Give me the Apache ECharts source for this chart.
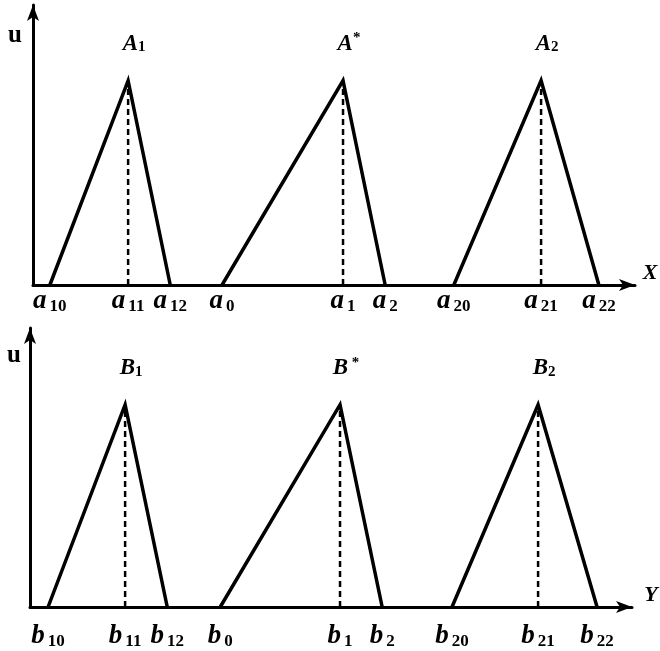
<!DOCTYPE html>
<html>
<head>
<meta charset="utf-8">
<script src="https://cdn.jsdelivr.net/npm/echarts@6/dist/echarts.min.js"></script>
<style>
  html, body { margin: 0; padding: 0; background: #fff; }
  #chart { width: 660px; height: 651px; }
</style>
</head>
<body>
<div id="chart"></div>
<script>
// positions along the axis (0 = origin, 100 = arrow tip), three per triangle: left foot, peak, right foot
const aPoints = [2.8, 15.8, 22.8, 31.4, 51.5, 58.5, 69.9, 84.4, 94.0];
const bPoints = [3.0, 15.8, 22.8, 31.6, 51.5, 58.5, 70.1, 84.4, 94.2];
// subscripts of the tick labels
const aSubs = ['10', '11', '12', '0', '1', '2', '20', '21', '22'];
const bSubs = ['10', '11', '12', '0', '1', '2', '20', '21', '22'];
// names over the peaks
const aNames = ['{n|A}{s|1}', '{n|A}{t|*}', '{n|A}{s|2}'];
const bNames = ['{n|B}{s|1}', '{n|B}{t| *}', '{n|B}{s|2}'];
// peak height (axis top = 1)
const peakA = 0.73;
const peakB = 0.725;

const serif = '"Liberation Serif", "DejaVu Serif", serif';

const tickRich = {
  i: { fontFamily: serif, fontStyle: 'italic', fontWeight: 'bold', fontSize: 27, color: '#000', verticalAlign: 'bottom', lineHeight: 26 },
  s: { fontFamily: serif, fontWeight: 'bold', fontSize: 17, color: '#000', verticalAlign: 'bottom', lineHeight: 21, padding: [0, 0, 0, 3] }
};
const nameRich = {
  n: { fontFamily: serif, fontStyle: 'italic', fontWeight: 'bold', fontSize: 23, color: '#000', verticalAlign: 'bottom', lineHeight: 24 },
  s: { fontFamily: serif, fontStyle: 'normal', fontWeight: 'bold', fontSize: 15, color: '#000', verticalAlign: 'bottom', lineHeight: 21 },
  t: { fontFamily: serif, fontStyle: 'normal', fontWeight: 'bold', fontSize: 15, color: '#000', verticalAlign: 'top', lineHeight: 24 }
};

function makeX(gridIndex, points, letter, subs, margin) {
  return {
    type: 'value', gridIndex: gridIndex, min: 0, max: 100,
    axisLine: { show: true, symbol: ['none', 'arrow'], symbolSize: [9, 16], lineStyle: { color: '#000', width: 3 } },
    axisTick: { show: false },
    splitLine: { show: false },
    axisLabel: {
      customValues: points,
      margin: margin,
      formatter: function (v) {
        let k = 0;
        points.forEach(function (p, j) { if (Math.abs(p - v) < Math.abs(points[k] - v)) k = j; });
        return '{i|' + letter + '}{s|' + subs[k] + '}';
      },
      rich: tickRich
    }
  };
}

function makeY(gridIndex) {
  return {
    type: 'value', gridIndex: gridIndex, min: 0, max: 1,
    axisLine: { show: true, symbol: ['none', 'arrow'], symbolSize: [9, 16], lineStyle: { color: '#000', width: 3 } },
    axisTick: { show: false },
    axisLabel: { show: false },
    splitLine: { show: false }
  };
}

function makeSeries(axisIndex, points, peak, names) {
  const out = [];
  const peaks = [];
  for (let i = 0; i < 3; i++) {
    const p0 = points[3 * i], p1 = points[3 * i + 1], p2 = points[3 * i + 2];
    out.push({
      type: 'line', xAxisIndex: axisIndex, yAxisIndex: axisIndex,
      symbol: 'none', silent: true,
      lineStyle: { color: '#000', width: 3.5, join: 'miter' },
      data: [[p0, 0], [p1, peak], [p2, 0]]
    });
    out.push({
      type: 'line', xAxisIndex: axisIndex, yAxisIndex: axisIndex,
      symbol: 'none', silent: true,
      lineStyle: { color: '#000', width: 2.5, type: [6, 4] },
      data: [[p1, 0], [p1, peak]]
    });
    peaks.push({ value: [p1, peak], label: { formatter: names[i] } });
  }
  // names over the peaks
  out.push({
    type: 'scatter', xAxisIndex: axisIndex, yAxisIndex: axisIndex,
    symbolSize: 1, silent: true,
    itemStyle: { color: '#fff', opacity: 1 },
    label: {
      show: true, position: 'top', distance: 25, offset: [6, 0],
      color: '#000', fontSize: 23, fontWeight: 'bold', fontStyle: 'italic', fontFamily: serif,
      rich: nameRich
    },
    data: peaks
  });
  return out;
}

const chart = echarts.init(document.getElementById('chart'));
chart.setOption({
  animation: false,
  backgroundColor: '#fff',
  grid: [
    { left: 33, right: 25, top: 5, height: 280 },
    { left: 30, right: 28, top: 328, height: 279 }
  ],
  xAxis: [makeX(0, aPoints, 'a', aSubs, 4), makeX(1, bPoints, 'b', bSubs, 17)],
  yAxis: [makeY(0), makeY(1)],
  series: makeSeries(0, aPoints, peakA, aNames).concat(makeSeries(1, bPoints, peakB, bNames)),
  graphic: [
    { type: 'text', style: { text: 'u', x: 15, y: 36, font: 'bold 25px ' + serif, textAlign: 'center', textVerticalAlign: 'middle', fill: '#000' } },
    { type: 'text', style: { text: 'X', x: 650, y: 273, font: 'italic bold 22px ' + serif, textAlign: 'center', textVerticalAlign: 'middle', fill: '#000' } },
    { type: 'text', style: { text: 'u', x: 14, y: 356, font: 'bold 25px ' + serif, textAlign: 'center', textVerticalAlign: 'middle', fill: '#000' } },
    { type: 'text', style: { text: 'Y', x: 651, y: 595, font: 'italic bold 22px ' + serif, textAlign: 'center', textVerticalAlign: 'middle', fill: '#000' } }
  ]
});
</script>
</body>
</html>
